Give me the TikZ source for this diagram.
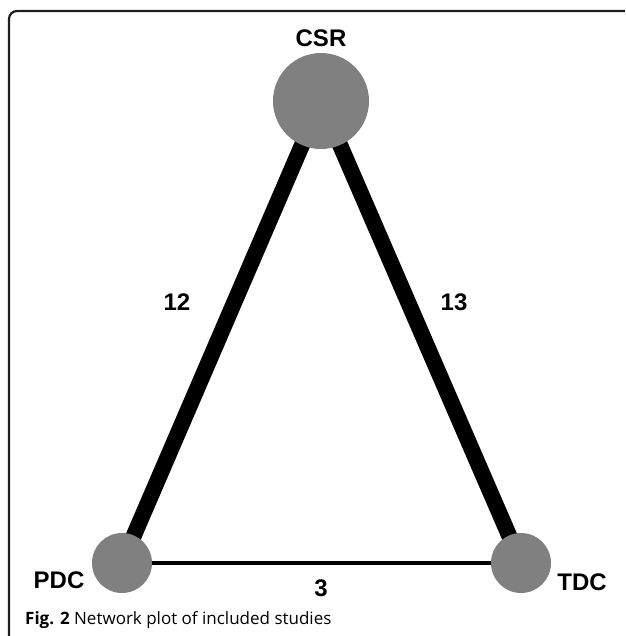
\documentclass[tikz,border=0pt]{standalone}
\usepackage{fontspec}
\setmainfont{Liberation Sans}
\newfontfamily\capfont{Open Sans}
\usepackage{tikz}
\usetikzlibrary{positioning}

\definecolor{nodegray}{RGB}{128,128,128}
\definecolor{framegray}{RGB}{30,30,30}

\begin{document}
\begin{tikzpicture}[x=1pt,y=-1pt,font=\bfseries\fontsize{24}{26}\selectfont]

  \tikzstyle{every trt}=[circle,fill=nodegray,inner sep=0pt]
  \tikzstyle{big}=[every trt,minimum size=96pt]
  \tikzstyle{small}=[every trt,minimum size=60pt]
  \tikzstyle{link}=[draw,black,line cap=butt]

  \useasboundingbox (0,0) rectangle (625,636);

  % frame
  \draw[framegray,line width=2.2pt] (9,636) -- (9,19) arc[start angle=180,end angle=270,radius=8] -- (625,11);

  \coordinate (c1) at (321,101);
  \coordinate (c2) at (122,563);
  \coordinate (c3) at (521,563);

  \path
  (c1) edge [link,line width=16pt] (c2)
  (c1) edge [link,line width=16pt] (c3)
  (c2) edge [link,line width=4.5pt] (c3);

  \node[big]   (CSR) at (c1) {};
  \node[small] (PDC) at (c2) {};
  \node[small] (TDC) at (c3) {};

  \node (lCSR) at (321,38)  {CSR};
  \node (lPDC) at (59,580)  {PDC};
  \node (lTDC) at (582,582) {TDC};

  \node (w12) at (177,302) {12};
  \node (w13) at (454,302) {13};
  \node (w3)  at (321,588) {3};

  \node[anchor=base west,font=\capfont\fontsize{17}{19}\selectfont,inner sep=0pt] (cap) at (25,624)
    {\textbf{Fig. 2} Network plot of included studies};
\end{tikzpicture}
\end{document}
